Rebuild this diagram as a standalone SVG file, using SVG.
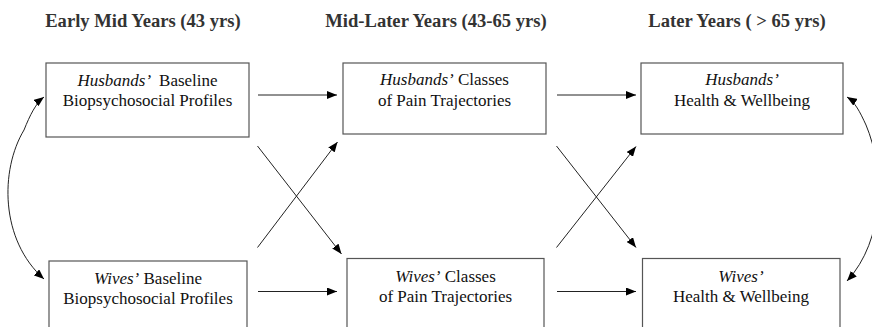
<svg xmlns="http://www.w3.org/2000/svg" width="872" height="327" viewBox="0 0 872 327">
<style>
.hdr{font-family:"Liberation Serif","Times New Roman",serif;font-weight:bold;font-size:18.6px;fill:#333;text-anchor:middle}
.box{fill:#fff;stroke:#555;stroke-width:1.2}
.lbl{font-family:"Liberation Serif","Times New Roman",serif;font-size:17px;fill:#111;text-anchor:middle}
.it{font-style:italic}
.con{fill:none;stroke:#222;stroke-width:1}
</style>
<defs>
<marker id="ah" viewBox="0 0 10 8" refX="10" refY="4" markerWidth="10" markerHeight="8" markerUnits="userSpaceOnUse" orient="auto">
<path d="M0,0 L10,4 L0,8 Z" fill="#000"/>
</marker>
</defs>
<rect width="872" height="327" fill="#fff"/>
<g id="headers">
<text class="hdr" x="143" y="27">Early Mid Years (43 yrs)</text>
<text class="hdr" x="436" y="27">Mid-Later Years (43-65 yrs)</text>
<text class="hdr" x="737" y="27">Later Years ( &gt; 65 yrs)</text>
</g>
<g id="h-baseline">
<rect class="box" x="46" y="63" width="203" height="74"/>
<text class="lbl" x="147.5" y="86"><tspan class="it">Husbands’</tspan><tspan dx="8">Baseline</tspan></text>
<text class="lbl" x="147.5" y="106">Biopsychosocial Profiles</text>
</g>
<g id="h-pain">
<rect class="box" x="343" y="63" width="203" height="71"/>
<text class="lbl" x="444.5" y="85"><tspan class="it">Husbands’</tspan> Classes</text>
<text class="lbl" x="444.5" y="106">of Pain Trajectories</text>
</g>
<g id="h-health">
<rect class="box" x="641" y="63" width="202" height="71"/>
<text class="lbl it" x="742" y="85">Husbands’</text>
<text class="lbl" x="742" y="106">Health &amp; Wellbeing</text>
</g>
<g id="w-baseline">
<rect class="box" x="49" y="261" width="198" height="74"/>
<text class="lbl" x="148" y="283.5"><tspan class="it">Wives’</tspan> Baseline</text>
<text class="lbl" x="148" y="303.5">Biopsychosocial Profiles</text>
</g>
<g id="w-pain">
<rect class="box" x="347" y="258.5" width="197" height="74"/>
<text class="lbl" x="445.5" y="281.5"><tspan class="it">Wives’</tspan> Classes</text>
<text class="lbl" x="445.5" y="302">of Pain Trajectories</text>
</g>
<g id="w-health">
<rect class="box" x="642.5" y="258.5" width="197.5" height="74"/>
<text class="lbl it" x="741" y="281.5">Wives’</text>
<text class="lbl" x="741" y="302">Health &amp; Wellbeing</text>
</g>
<g id="connectors">
<line class="con" x1="258" y1="95" x2="337" y2="95" marker-end="url(#ah)"/>
<line class="con" x1="557" y1="95" x2="636" y2="95" marker-end="url(#ah)"/>
<line class="con" x1="258" y1="291.5" x2="337" y2="291.5" marker-end="url(#ah)"/>
<line class="con" x1="557" y1="291.5" x2="636" y2="291.5" marker-end="url(#ah)"/>
<line class="con" x1="257.5" y1="146" x2="341.5" y2="254" marker-end="url(#ah)"/>
<line class="con" x1="257.5" y1="247.5" x2="337.5" y2="142" marker-end="url(#ah)"/>
<line class="con" x1="556.5" y1="146" x2="636" y2="247.5" marker-end="url(#ah)"/>
<line class="con" x1="556.5" y1="247.5" x2="636" y2="146.5" marker-end="url(#ah)"/>
<path class="con" d="M24,130 C0,170 0,240 44,279" marker-end="url(#ah)"/>
<path class="con" d="M24,130 C30,115 36,103 44,97" marker-end="url(#ah)"/>
<path class="con" d="M866,125 C885,170 885,240 847,281" marker-end="url(#ah)"/>
<path class="con" d="M866,125 C860,112 855,102 847,97" marker-end="url(#ah)"/>
</g>
</svg>
